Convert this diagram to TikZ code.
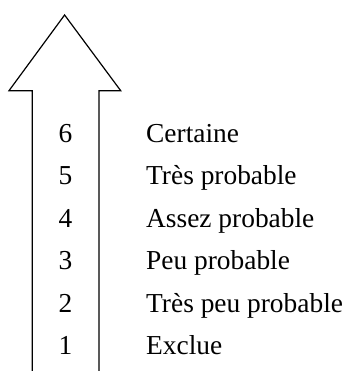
\documentclass[tikz,border=0pt]{standalone}
\usepackage{fontspec}
\setmainfont{Liberation Serif}
\begin{document}
\begin{tikzpicture}[x=1pt,y=1pt,
  num/.style={anchor=base,inner sep=0pt,font=\fontsize{27.4}{31}\selectfont},
  lab/.style={anchor=base west,inner sep=0pt,font=\fontsize{27.4}{31}\selectfont},
  outline/.style={draw=black,line width=1.2pt,line join=miter}]
\useasboundingbox (0,0) rectangle (349,371);
\draw[outline] (32.3,-2) -- (32.3,280.3) -- (9,280.3) -- (64.6,356) -- (120.7,280.3) -- (99,280.3) -- (99,-2);
\foreach \n/\t [count=\i from 0] in {6/Certaine,5/Très probable,4/Assez probable,3/Peu probable,2/Très peu probable,1/Exclue}{
  \node[num] (n\n) at (65.5,{228.5-42.4*\i}) {\n};
  \node[lab] (l\n) at (146,{228.5-42.4*\i}) {\t};
}
\end{tikzpicture}
\end{document}
